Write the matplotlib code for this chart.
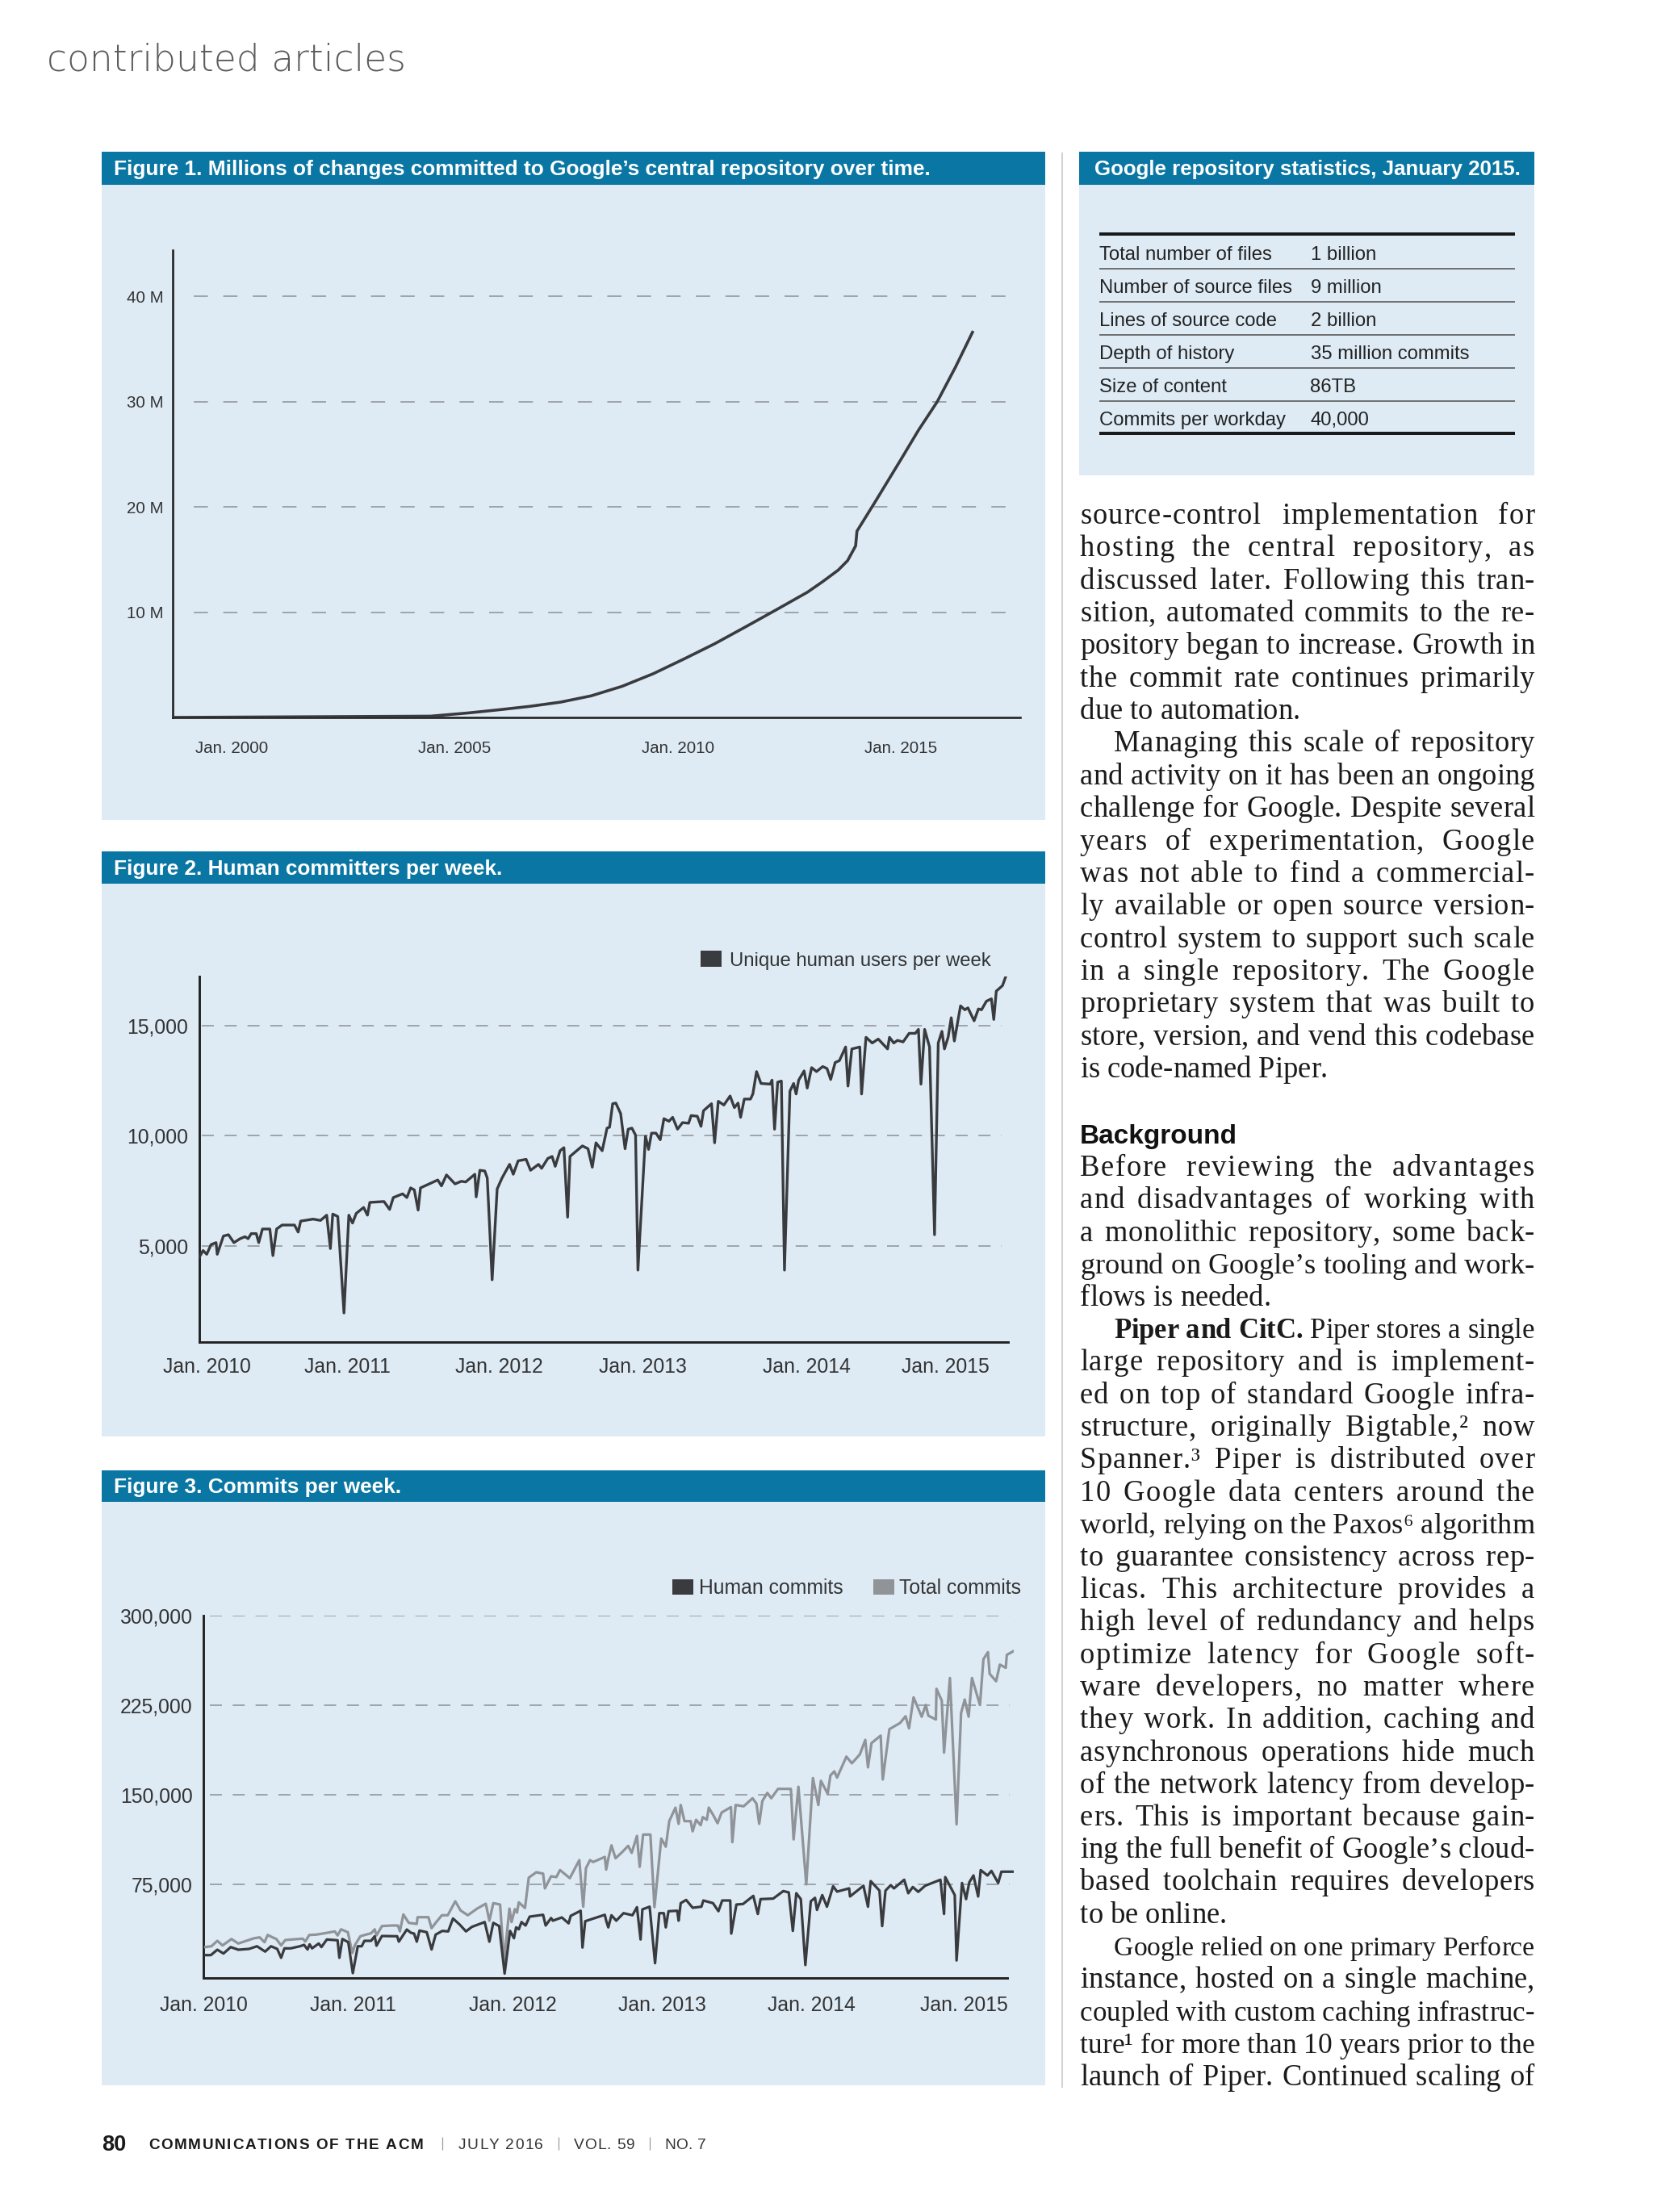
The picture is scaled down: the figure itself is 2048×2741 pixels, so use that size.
import matplotlib
matplotlib.use('Agg')
import matplotlib.pyplot as plt
from matplotlib.patches import Rectangle, Patch
from matplotlib.lines import Line2D

# ---------------------------------------------------------------- data
fig1_years = [1998.68, 2004.46, 2005.29, 2005.98, 2006.68, 2007.37, 2008.06, 2008.75, 2009.45,
              2010.14, 2010.83, 2011.52, 2012.22, 2012.91, 2013.25, 2013.60, 2013.81, 2013.99,
              2014.02, 2014.43, 2014.99, 2015.40, 2015.82, 2016.23, 2016.61]
fig1_millions = [0.0, 0.12, 0.42, 0.72, 1.05, 1.45, 2.05, 2.95, 4.15, 5.55, 7.0, 8.6, 10.25, 11.9,
                 12.9, 14.0, 14.9, 16.3, 17.7, 20.5, 24.4, 27.3, 30.0, 33.3, 36.6]
fig1_xticks = [2000, 2005, 2010, 2015]
fig1_xlabels = ['Jan. 2000', 'Jan. 2005', 'Jan. 2010', 'Jan. 2015']
fig1_yticks = [10, 20, 30, 40]
fig1_ylabels = ['10 M', '20 M', '30 M', '40 M']

fig2_years = [2010.000, 2010.025, 2010.050, 2010.079, 2010.113, 2010.121, 2010.163, 2010.197, 2010.234, 2010.276,
              2010.309, 2010.330, 2010.351, 2010.385, 2010.402, 2010.427, 2010.477, 2010.498, 2010.523, 2010.560,
              2010.644, 2010.669, 2010.686, 2010.770, 2010.820, 2010.862, 2010.887, 2010.903, 2010.937, 2010.979,
              2011.012, 2011.037, 2011.062, 2011.112, 2011.138, 2011.154, 2011.250, 2011.288, 2011.313, 2011.376,
              2011.405, 2011.430, 2011.455, 2011.481, 2011.497, 2011.585, 2011.614, 2011.639, 2011.673, 2011.731,
              2011.773, 2011.803, 2011.865, 2011.874, 2011.899, 2011.932, 2011.949, 2011.982, 2012.016, 2012.049,
              2012.100, 2012.125, 2012.158, 2012.212, 2012.242, 2012.296, 2012.317, 2012.359, 2012.388, 2012.409,
              2012.442, 2012.468, 2012.493, 2012.509, 2012.593, 2012.631, 2012.660, 2012.685, 2012.727, 2012.760,
              2012.777, 2012.798, 2012.819, 2012.852, 2012.882, 2012.903, 2012.928, 2012.953, 2012.969, 2013.020,
              2013.041, 2013.061, 2013.091, 2013.120, 2013.145, 2013.179, 2013.204, 2013.237, 2013.271, 2013.312,
              2013.329, 2013.371, 2013.396, 2013.413, 2013.467, 2013.488, 2013.513, 2013.551, 2013.593, 2013.622,
              2013.647, 2013.664, 2013.689, 2013.731, 2013.747, 2013.772, 2013.802, 2013.864, 2013.877, 2013.894,
              2013.915, 2013.940, 2013.961, 2013.998, 2014.023, 2014.040, 2014.057, 2014.094, 2014.115, 2014.145,
              2014.178, 2014.220, 2014.249, 2014.274, 2014.304, 2014.333, 2014.375, 2014.391, 2014.417, 2014.471,
              2014.483, 2014.513, 2014.555, 2014.596, 2014.659, 2014.672, 2014.701, 2014.726, 2014.764, 2014.805,
              2014.847, 2014.868, 2014.885, 2014.910, 2014.943, 2014.977, 2015.002, 2015.027, 2015.044, 2015.069,
              2015.090, 2015.111, 2015.153, 2015.182, 2015.203, 2015.245, 2015.274, 2015.295, 2015.328, 2015.362,
              2015.378, 2015.395, 2015.437, 2015.462]
fig2_users = [4480, 4780, 4610, 5050, 5140, 4610, 5440, 5500, 5140, 5320,
              5410, 5320, 5550, 5550, 5140, 5760, 5760, 4550, 5760, 5940,
              5940, 5620, 6120, 6210, 6150, 6390, 4870, 6440, 6330, 1940,
              6390, 6030, 6470, 6740, 6390, 6970, 7010, 6650, 7190, 7360,
              7190, 7630, 7540, 6620, 7630, 7900, 7990, 7720, 8220, 7810,
              7930, 7900, 8250, 7220, 8430, 8400, 8080, 3450, 7580, 8080,
              8700, 8250, 8860, 8930, 8430, 8700, 8520, 8970, 9060, 8610,
              9320, 9460, 6300, 9060, 9540, 9410, 8570, 9680, 9320, 10350,
              10390, 11460, 11490, 11010, 9410, 10300, 10350, 10030, 3890, 9980,
              9380, 10120, 10120, 9820, 10780, 10660, 10840, 10300, 10600, 10570,
              10920, 10890, 10430, 11140, 11460, 9680, 11570, 11400, 11810, 11280,
              11490, 10840, 11670, 11670, 11900, 12920, 12380, 12350, 12530, 10300,
              12440, 12490, 3890, 12030, 12380, 11900, 12530, 12950, 12170, 13100,
              12920, 13150, 13060, 12560, 13330, 13420, 14040, 12260, 13950, 14040,
              11900, 14480, 14220, 14400, 13950, 14480, 14220, 14340, 14270, 14660,
              14660, 14840, 12350, 14840, 14040, 5500, 14220, 14750, 13950, 14480,
              15370, 14310, 15910, 15730, 15820, 15230, 15770, 15730, 16120, 16230,
              15290, 16580, 16830, 17300]
fig2_xticks = [2010.05, 2011.0, 2012.03, 2013.0, 2014.11, 2015.05]
fig2_xlabels = ['Jan. 2010', 'Jan. 2011', 'Jan. 2012', 'Jan. 2013', 'Jan. 2014', 'Jan. 2015']
fig2_yticks = [5000, 10000, 15000]
fig2_ylabels = ['5,000', '10,000', '15,000']
fig2_legend = 'Unique human users per week'

fig3_total_years = [2010.001, 2010.041, 2010.080, 2010.115, 2010.174, 2010.219, 2010.272, 2010.325, 2010.361, 2010.393,
                    2010.414, 2010.446, 2010.471, 2010.503, 2010.530, 2010.574, 2010.646, 2010.663, 2010.690, 2010.735,
                    2010.788, 2010.859, 2010.877, 2010.900, 2010.945, 2010.975, 2010.993, 2011.028, 2011.076, 2011.099,
                    2011.123, 2011.135, 2011.171, 2011.233, 2011.277, 2011.290, 2011.313, 2011.349, 2011.402, 2011.407,
                    2011.479, 2011.500, 2011.527, 2011.568, 2011.607, 2011.657, 2011.692, 2011.740, 2011.802, 2011.859,
                    2011.883, 2011.909, 2011.954, 2011.980, 2012.016, 2012.030, 2012.052, 2012.066, 2012.078, 2012.119,
                    2012.144, 2012.194, 2012.239, 2012.251, 2012.292, 2012.327, 2012.351, 2012.416, 2012.479, 2012.505,
                    2012.523, 2012.550, 2012.571, 2012.648,
                    2012.657, 2012.671, 2012.692, 2012.719, 2012.763, 2012.803, 2012.826, 2012.861, 2012.879, 2012.902,
                    2012.950, 2012.977, 2013.022, 2013.052, 2013.075, 2013.116, 2013.137, 2013.151, 2013.176, 2013.217,
                    2013.230, 2013.253, 2013.283, 2013.297, 2013.324, 2013.337, 2013.369, 2013.395, 2013.422, 2013.484,
                    2013.493, 2013.515, 2013.568, 2013.627, 2013.653, 2013.671, 2013.692, 2013.725, 2013.751, 2013.796,
                    2013.881, 2013.899, 2013.931, 2013.983, 2014.027, 2014.063, 2014.080, 2014.125, 2014.143, 2014.169,
                    2014.187, 2014.249, 2014.285, 2014.338, 2014.374, 2014.392, 2014.415, 2014.476, 2014.490, 2014.534,
                    2014.605, 2014.641, 2014.664, 2014.694, 2014.748, 2014.775, 2014.792, 2014.842, 2014.846, 2014.881,
                    2014.896, 2014.935, 2014.979, 2015.009, 2015.033, 2015.059, 2015.081, 2015.134, 2015.157, 2015.187,
                    2015.198, 2015.241, 2015.266, 2015.305, 2015.312, 2015.356]
fig3_total = [22700, 23380, 27910, 24060, 29460, 25680, 27910, 30140, 30810, 26760,
              32840, 30810, 29460, 24060, 28580, 29060, 29730, 27430, 32840, 33110,
              34190, 35810, 32430, 37570, 35140, 17770, 24530, 31760, 33510, 34190,
              37570, 32430, 40270, 40740, 40740, 35810, 50000, 42980, 42100, 47700,
              47700, 38510, 42980, 49330, 49330, 61010, 53380, 49330, 54930, 58990,
              44800, 59460, 58310, 11010, 54930, 43650, 54460, 51560, 60140, 55410,
              80810, 85340, 84190, 71830, 81960, 81290, 87170, 80410, 95480, 56490,
              88720, 95480, 93920, 98180,
              87570, 96630, 107840, 97030, 102230, 107440, 101560, 115750, 89870, 116900,
              116900, 56080, 113520, 106760, 128110, 139400, 125880, 141630, 128110, 128110,
              119600, 129260, 124730, 131490, 129260, 139400, 132640, 126360, 135340, 139870,
              110540, 141630, 140550, 147300, 142770, 125880, 145000, 151760, 147300, 155140,
              155140, 112840, 156960, 75200, 164200, 141630, 161900, 151080, 166420, 169800,
              164600, 182170, 176560, 183990, 196150, 173180, 193450, 199740, 163040, 205140,
              210340, 215950, 205820, 231760, 215550, 225410, 216430, 213250, 238930, 229060,
              185550, 247980, 125410, 218660, 229940, 215550, 247980, 225410, 263730, 269600,
              251560, 245280, 259200, 256500, 267310, 270480]
fig3_human_years = [2010.001, 2010.037, 2010.080, 2010.121, 2010.169, 2010.219, 2010.290, 2010.343, 2010.397, 2010.436,
                    2010.477, 2010.503, 2010.525, 2010.566, 2010.628, 2010.655, 2010.678, 2010.692, 2010.708, 2010.752,
                    2010.770, 2010.806, 2010.877, 2010.889, 2010.909, 2010.948, 2010.978, 2011.011, 2011.037, 2011.055,
                    2011.099, 2011.123, 2011.135, 2011.171, 2011.272, 2011.283, 2011.336, 2011.363, 2011.384, 2011.402,
                    2011.420, 2011.468, 2011.500, 2011.527, 2011.571, 2011.610, 2011.642, 2011.687, 2011.728, 2011.767,
                    2011.852, 2011.883, 2011.909, 2011.948, 2011.984, 2012.020, 2012.046, 2012.060, 2012.078, 2012.096,
                    2012.123, 2012.150, 2012.239, 2012.256, 2012.292, 2012.304, 2012.363, 2012.408, 2012.422, 2012.488,
                    2012.500, 2012.518, 2012.648,
                    2012.657, 2012.671, 2012.692, 2012.724, 2012.772, 2012.831, 2012.861, 2012.885, 2012.897, 2012.945,
                    2012.981, 2013.009, 2013.039, 2013.052, 2013.070, 2013.128, 2013.137, 2013.151, 2013.187, 2013.230,
                    2013.288, 2013.301, 2013.365, 2013.401, 2013.426, 2013.479, 2013.486, 2013.520, 2013.564, 2013.632,
                    2013.662, 2013.680, 2013.764, 2013.831, 2013.867, 2013.894, 2013.917, 2013.947, 2013.977, 2014.013,
                    2014.041, 2014.054, 2014.089, 2014.120, 2014.161, 2014.187, 2014.267, 2014.273, 2014.362, 2014.392,
                    2014.410, 2014.468, 2014.486, 2014.508, 2014.543, 2014.564, 2014.632, 2014.659, 2014.689, 2014.725,
                    2014.771, 2014.872, 2014.896, 2014.904, 2014.967, 2014.979, 2015.015, 2015.042, 2015.063, 2015.091,
                    2015.122, 2015.139, 2015.184, 2015.210, 2015.255, 2015.276, 2015.356]
fig3_human = [15950, 15950, 20470, 17300, 22700, 20470, 21150, 23380, 18920, 23380,
              21150, 13720, 21620, 21620, 23380, 24530, 20680, 25000, 21620, 25680,
              22700, 29060, 28380, 13720, 29460, 26760, 880, 23380, 23380, 27910,
              27910, 31760, 23850, 31960, 31760, 27230, 37370, 34660, 33990, 27230,
              36490, 35140, 20680, 33110, 36220, 35810, 46620, 41420, 35810, 39600,
              43650, 27230, 42980, 40270, 500, 36220, 30140, 39190, 37570, 43650,
              40740, 48180, 49730, 40740, 47030, 44800, 47500, 42570, 48850, 53110,
              22300, 44330, 49730,
              44800, 39190, 49330, 44800, 51080, 49330, 56080, 29060, 54260, 56490,
              9190, 51080, 51080, 39190, 52700, 53110, 44800, 59460, 62160, 55610,
              56490, 61690, 59460, 52700, 61690, 61690, 33990, 58310, 58760, 65540,
              50410, 62840, 63290, 69600, 68450, 36220, 67770, 62840, 7640, 61010,
              63920, 53790, 66220, 56490, 73650, 69120, 71830, 65070, 74060, 56490,
              77910, 70000, 40270, 70000, 74530, 71830, 79060, 67770, 72980, 68920,
              74060, 79060, 50410, 81290, 66220, 11490, 76350, 62840, 76800, 82640,
              65070, 87170, 82640, 86490, 76350, 85810, 85810]
fig3_xticks = [2009.99, 2010.98, 2012.04, 2013.03, 2014.02, 2015.03]
fig3_xlabels = ['Jan. 2010', 'Jan. 2011', 'Jan. 2012', 'Jan. 2013', 'Jan. 2014', 'Jan. 2015']
fig3_yticks = [75000, 150000, 225000, 300000]
fig3_ylabels = ['75,000', '150,000', '225,000', '300,000']
fig3_legend = ['Human commits', 'Total commits']

table_labels = ['Total number of files', 'Number of source files', 'Lines of source code',
                'Depth of history', 'Size of content', 'Commits per workday']
table_values = ['1 billion', '9 million', '2 billion', '35 million commits', '86TB', '40,000']

titles = ['Figure 1. Millions of changes committed to Google\u2019s central repository over time.',
          'Figure 2. Human committers per week.',
          'Figure 3. Commits per week.',
          'Google repository statistics, January 2015.']

# body text: (line, indent, justify, n_bold_words)
body1 = [
    ('source-control implementation for', 0, 1, 0),
    ('hosting the central repository, as', 0, 1, 0),
    ('discussed later. Following this tran-', 0, 1, 0),
    ('sition, automated commits to the re-', 0, 1, 0),
    ('pository began to increase. Growth in', 0, 1, 0),
    ('the commit rate continues primarily', 0, 1, 0),
    ('due to automation.', 0, 0, 0),
    ('Managing this scale of repository', 1, 1, 0),
    ('and activity on it has been an ongoing', 0, 1, 0),
    ('challenge for Google. Despite several', 0, 1, 0),
    ('years of experimentation, Google', 0, 1, 0),
    ('was not able to find a commercial-', 0, 1, 0),
    ('ly available or open source version-', 0, 1, 0),
    ('control system to support such scale', 0, 1, 0),
    ('in a single repository. The Google', 0, 1, 0),
    ('proprietary system that was built to', 0, 1, 0),
    ('store, version, and vend this codebase', 0, 1, 0),
    ('is code-named Piper.', 0, 0, 0),
]
body_heading = 'Background'
body2 = [
    ('Before reviewing the advantages', 0, 1, 0),
    ('and disadvantages of working with', 0, 1, 0),
    ('a monolithic repository, some back-', 0, 1, 0),
    ('ground on Google\u2019s tooling and work-', 0, 1, 0),
    ('flows is needed.', 0, 0, 0),
    ('Piper and CitC. Piper stores a single', 1, 1, 3),
    ('large repository and is implement-', 0, 1, 0),
    ('ed on top of standard Google infra-', 0, 1, 0),
    ('structure, originally Bigtable,\u00b2 now', 0, 1, 0),
    ('Spanner.\u00b3 Piper is distributed over', 0, 1, 0),
    ('10 Google data centers around the', 0, 1, 0),
    ('world, relying on the Paxos\u2076 algorithm', 0, 1, 0),
    ('to guarantee consistency across rep-', 0, 1, 0),
    ('licas. This architecture provides a', 0, 1, 0),
    ('high level of redundancy and helps', 0, 1, 0),
    ('optimize latency for Google soft-', 0, 1, 0),
    ('ware developers, no matter where', 0, 1, 0),
    ('they work. In addition, caching and', 0, 1, 0),
    ('asynchronous operations hide much', 0, 1, 0),
    ('of the network latency from develop-', 0, 1, 0),
    ('ers. This is important because gain-', 0, 1, 0),
    ('ing the full benefit of Google\u2019s cloud-', 0, 1, 0),
    ('based toolchain requires developers', 0, 1, 0),
    ('to be online.', 0, 0, 0),
    ('Google relied on one primary Perforce', 1, 1, 0),
    ('instance, hosted on a single machine,', 0, 1, 0),
    ('coupled with custom caching infrastruc-', 0, 1, 0),
    ('ture\u00b9 for more than 10 years prior to the', 0, 1, 0),
    ('launch of Piper. Continued scaling of', 0, 1, 0),
]

# ---------------------------------------------------------------- style
W, H = 2048, 2741
DPI = 100
SANS = ['Liberation Sans', 'DejaVu Sans']
SERIF = ['Liberation Serif', 'DejaVu Serif']
plt.rcParams['font.family'] = SANS

HEADER_BLUE = '#0a76a3'
PANEL_BLUE = '#deebf5'
LINE_DARK = '#3a3b3e'
LINE_GRAY = '#909398'
GRID_GRAY = '#9ea4a9'
AXIS_DARK = '#222222'
LABEL = '#333333'

fig = plt.figure(figsize=(W / DPI, H / DPI), dpi=DPI, facecolor='white')
renderer = fig.canvas.get_renderer()


def fx(x):
    return x / W


def fy(y):
    return 1 - y / H


def rect(x0, y0, x1, y1, color, z=-5):
    fig.add_artist(Rectangle((fx(x0), fy(y1)), (x1 - x0) / W, (y1 - y0) / H,
                             transform=fig.transFigure, facecolor=color,
                             edgecolor='none', zorder=z))


def hline(x0, x1, y, lw_px, color):
    fig.add_artist(Line2D([fx(x0), fx(x1)], [fy(y), fy(y)], transform=fig.transFigure,
                          color=color, lw=lw_px * 72 / DPI, solid_capstyle='butt'))


def vline(x, y0, y1, lw_px, color):
    fig.add_artist(Line2D([fx(x), fx(x)], [fy(y0), fy(y1)], transform=fig.transFigure,
                          color=color, lw=lw_px * 72 / DPI, solid_capstyle='butt'))


def add_axes(l, t, r, b):
    ax = fig.add_axes([fx(l), fy(b), (r - l) / W, (b - t) / H])
    ax.set_facecolor('none')
    for s in ('top', 'right'):
        ax.spines[s].set_visible(False)
    for s in ('left', 'bottom'):
        ax.spines[s].set_color(AXIS_DARK)
    return ax


def dash(d_px, g_px, lw_pt):
    return (0, (d_px * 0.72 / lw_pt, g_px * 0.72 / lw_pt))


def measure(s, size, weight='normal', family=SERIF):
    t = fig.text(0, 0, s, fontsize=size, fontweight=weight, family=family)
    w = t.get_window_extent(renderer).width
    t.remove()
    return w


_adv = {}


def adv(c, size, weight='normal', family=SERIF):
    key = (c, round(size, 4), weight, tuple(family))
    if key not in _adv:
        base = measure('xx', size, weight, family)
        _adv[key] = measure('x' + c + 'x', size, weight, family) - base
    return _adv[key]


def tracked_text(x, y, s, size, weight, family, color, target):
    advs = [adv(c, size, weight, family) for c in s]
    tr = (target - sum(advs[:-1]) - measure(s[-1], size, weight, family)) / max(len(s) - 1, 1)
    for c, a in zip(s, advs):
        if c != ' ':
            fig.text(fx(x), fy(y), c, fontsize=size, fontweight=weight, family=family,
                     color=color, va='baseline')
        x += a + tr


# ---------------------------------------------------------------- page
fig.text(fx(58), fy(88), 'contributed articles', fontsize=32.8, color='#5a5b5d',
         family=['DejaVu Sans'], fontweight='light', va='baseline')

rect(126, 188, 1295, 1016, PANEL_BLUE)
rect(126, 188, 1295, 228.5, HEADER_BLUE, z=-4)
rect(126, 1055, 1295, 1780, PANEL_BLUE)
rect(126, 1055, 1295, 1095, HEADER_BLUE, z=-4)
rect(126, 1822, 1295, 2584, PANEL_BLUE)
rect(126, 1822, 1295, 1861, HEADER_BLUE, z=-4)
rect(1337, 188, 1901, 589, PANEL_BLUE)
rect(1337, 188, 1901, 228.5, HEADER_BLUE, z=-4)
vline(1316, 189, 2587, 1.5, '#c4c4c4')

fig.text(fx(141), fy(217), titles[0], color='white', fontweight='bold', fontsize=18.9, va='baseline')
fig.text(fx(141), fy(1084), titles[1], color='white', fontweight='bold', fontsize=18.9, va='baseline')
fig.text(fx(141), fy(1850), titles[2], color='white', fontweight='bold', fontsize=18.9, va='baseline')
fig.text(fx(1620), fy(217), titles[3], color='white', fontweight='bold', fontsize=18.6,
         va='baseline', ha='center')

# ---------------------------------------------------------------- figure 1
ax1 = add_axes(214, 310, 1264, 889)
ax1.set_xlim(1998.68, 2017.68)
ax1.set_ylim(0, 44.4)
for s in ('left', 'bottom'):
    ax1.spines[s].set_linewidth(1.9)
lw_g = 1.4
ax1.hlines(fig1_yticks, 1999.15, 2017.68, colors=GRID_GRAY, linewidth=lw_g,
           linestyles=[dash(17.6, 19.0, lw_g)], zorder=1)
ax1.plot(fig1_years, fig1_millions, color=LINE_DARK, lw=2.6, zorder=3)
ax1.set_xticks(fig1_xticks)
ax1.set_xticklabels(fig1_xlabels)
ax1.set_yticks(fig1_yticks)
ax1.set_yticklabels(fig1_ylabels)
ax1.tick_params(axis='x', length=0, pad=21, labelsize=14.8, labelcolor=LABEL)
ax1.tick_params(axis='y', length=0, pad=8, labelsize=14.8, labelcolor=LABEL)

# ---------------------------------------------------------------- figure 2
ax2 = add_axes(247, 1210, 1249, 1663)
ax2.set_xlim(2010.0, 2015.475)
ax2.set_ylim(618, 17246)
for s in ('left', 'bottom'):
    ax2.spines[s].set_linewidth(2.1)
ax2.hlines(fig2_yticks, 2010.016, 2015.43, colors=GRID_GRAY, linewidth=lw_g,
           linestyles=[dash(15, 13.3, lw_g)], zorder=1)
n2 = min(len(fig2_years), len(fig2_users))
ax2.plot(fig2_years[:n2], fig2_users[:n2], color=LINE_DARK, lw=2.4, zorder=3)
ax2.set_xticks(fig2_xticks)
ax2.set_xticklabels(fig2_xlabels)
ax2.set_yticks(fig2_yticks)
ax2.set_yticklabels(fig2_ylabels)
ax2.tick_params(axis='x', length=0, pad=14, labelsize=17.8, labelcolor=LABEL)
ax2.tick_params(axis='y', length=0, pad=10, labelsize=17.8, labelcolor=LABEL)
ax2.legend(handles=[Patch(facecolor=LINE_DARK, edgecolor='none', label=fig2_legend)],
           loc='center left', bbox_to_anchor=(fx(868), fy(1190)), bbox_transform=fig.transFigure,
           frameon=False, borderpad=0, borderaxespad=0, handlelength=1.1, handleheight=0.88,
           handletextpad=0.4, fontsize=17.2, labelcolor=LABEL)

# ---------------------------------------------------------------- figure 3
ax3 = add_axes(252.4, 2002.3, 1256, 2450.7)
ax3.set_xlim(2010.0, 2015.358)
ax3.set_ylim(-2973, 300000)
for s in ('left', 'bottom'):
    ax3.spines[s].set_linewidth(2.1)
ax3.spines['bottom'].set_bounds(2010.0, 2015.314)
ax3.hlines(fig3_yticks, 2010.03, 2015.33, colors=GRID_GRAY, linewidth=lw_g,
           linestyles=[dash(15, 13.3, lw_g)], zorder=1)
nt = min(len(fig3_total_years), len(fig3_total))
nh = min(len(fig3_human_years), len(fig3_human))
ax3.plot(fig3_total_years[:nt], fig3_total[:nt], color=LINE_GRAY, lw=2.3, zorder=3)
ax3.plot(fig3_human_years[:nh], fig3_human[:nh], color=LINE_DARK, lw=2.3, zorder=4)
ax3.set_xticks(fig3_xticks)
ax3.set_xticklabels(fig3_xlabels)
ax3.set_yticks(fig3_yticks)
ax3.set_yticklabels(fig3_ylabels)
ax3.tick_params(axis='x', length=0, pad=16, labelsize=17.8, labelcolor=LABEL)
ax3.tick_params(axis='y', length=0, pad=10, labelsize=17.8, labelcolor=LABEL)
ax3.legend(handles=[Patch(facecolor=LINE_DARK, edgecolor='none', label=fig3_legend[0]),
                    Patch(facecolor=LINE_GRAY, edgecolor='none', label=fig3_legend[1])],
           loc='center left', bbox_to_anchor=(fx(833), fy(1968)), bbox_transform=fig.transFigure,
           ncol=2, frameon=False, borderpad=0, borderaxespad=0, handlelength=1.05,
           handleheight=0.85, handletextpad=0.28, columnspacing=1.5, fontsize=17.8,
           labelcolor=LABEL)

# ---------------------------------------------------------------- table
hline(1362, 1877, 290, 4.0, '#1a1a1a')
for yy in (333, 373.6, 415, 456, 496.5):
    hline(1362, 1877, yy, 1.6, '#555555')
hline(1362, 1877, 537, 4.0, '#1a1a1a')
row_centers = [314, 355, 396, 437, 478, 519]
for lab, val, yc in zip(table_labels, table_values, row_centers):
    fig.text(fx(1362), fy(yc + 8), lab, fontsize=17.2, color='#222222', va='baseline')
    fig.text(fx(1623.5), fy(yc + 8), val, fontsize=17.2, color='#222222', va='baseline')

# ---------------------------------------------------------------- body text
COL_L, COL_R = 1338, 1901
INDENT = 42
BODY_COLOR = '#1a1a1a'
BODY_SIZE = 26.3


def draw_line(ln, y, base):
    words = ln[0].split(' ')
    weights = ['bold' if i < ln[3] else 'normal' for i in range(len(words))]
    x = COL_L + (INDENT if ln[1] else 0)
    avail = COL_R - x

    def natural(size):
        ws = [sum(adv(c, size, wt) for c in w) for w, wt in zip(words, weights)]
        return ws, sum(ws) + adv(' ', size) * (len(words) - 1)

    size = base
    ws, nat = natural(size)
    if nat > avail:
        size = size * avail / nat * 0.997
        ws, nat = natural(size)
    sp = adv(' ', size)
    inner = sum(len(w) - 1 for w in words)
    track = 0.0
    if ln[2] and len(words) > 1:
        extra = avail - nat
        if extra > 0 and inner > 0:
            track = min(extra * 0.45 / inner, 0.07 * size * DPI / 72)
        gap = (avail - sum(ws) - track * inner) / (len(words) - 1)
    else:
        gap = sp
    for w, wt in zip(words, weights):
        for c in w:
            fig.text(fx(x), fy(y), c, fontsize=size, fontweight=wt, family=SERIF,
                     color=BODY_COLOR, va='baseline')
            x += adv(c, size, wt) + track
        x += gap - track


for i, ln in enumerate(body1):
    draw_line(ln, 649 + i * 40.35, BODY_SIZE)
fig.text(fx(COL_L), fy(1417), body_heading, fontsize=24, fontweight='bold', color='#111111',
         va='baseline')
for i, ln in enumerate(body2):
    draw_line(ln, 1457 + i * 40.25, BODY_SIZE)

# ---------------------------------------------------------------- footer
fig.text(fx(126), fy(2665), '80', fontsize=19.5, fontweight='bold', color='#1a1a1a', va='baseline')
tracked_text(184, 2663, 'COMMUNICATIONS OF THE ACM', 13.6, 'bold', SANS, '#1a1a1a', 340)
for xs in (548, 692, 805):
    vline(xs, 2648, 2664, 1.2, '#9a9a9a')
tracked_text(568, 2663, 'JULY 2016', 13.8, 'normal', SANS, '#333333', 105)
tracked_text(711, 2663, 'VOL. 59', 13.8, 'normal', SANS, '#333333', 75)
tracked_text(823, 2663, 'NO. 7', 13.8, 'normal', SANS, '#333333', 52)

fig.savefig('out.png', dpi=DPI, facecolor='white')
